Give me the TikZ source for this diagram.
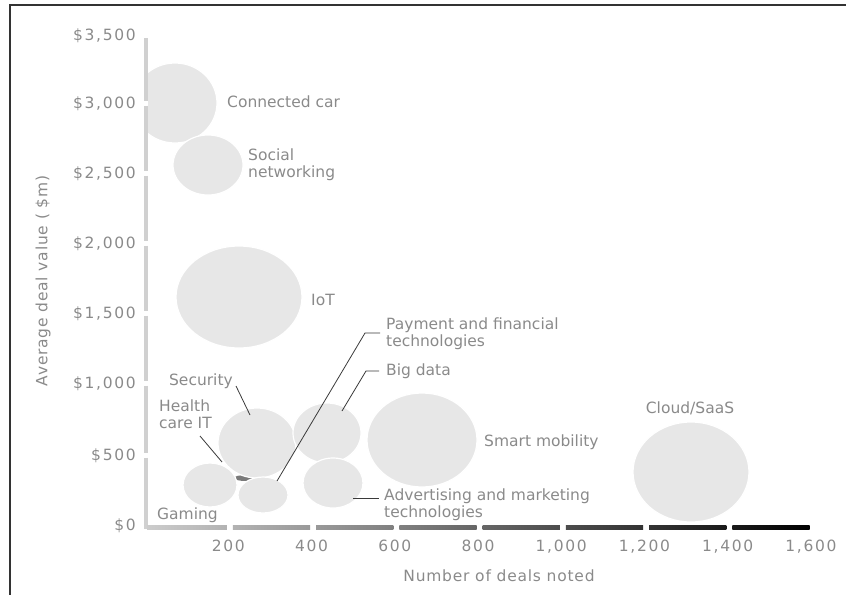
\documentclass[tikz,border=0pt]{standalone}
\usepackage{fontspec}
\setmainfont{DejaVu Sans}
\newfontfamily\tickfont[LetterSpace=11]{DejaVu Sans}
\newfontfamily\titlefont[LetterSpace=5]{DejaVu Sans}
\usetikzlibrary{shapes.geometric}
\definecolor{bubblegray}{HTML}{E7E7E7}
\definecolor{labelgray}{HTML}{8A8A8A}
\definecolor{axisgray}{HTML}{D0D0D0}
\definecolor{framegray}{HTML}{333333}
\definecolor{leadergray}{HTML}{3A3A3A}
\definecolor{healthgray}{HTML}{7A7A7A}
\begin{document}
\begin{tikzpicture}[x=1pt,y=-1pt,
  bubble/.style={ellipse, fill=bubblegray, draw=white, line width=1.2pt, inner sep=0pt},
  lbl/.style={text=labelgray, font=\fontsize{15.5}{17}\selectfont, align=left, inner sep=0pt},
  ticklbl/.style={text=labelgray, font=\tickfont\fontsize{15.5}{17}\selectfont, inner sep=0pt},
  axtitle/.style={text=labelgray, font=\titlefont\fontsize{15.5}{17}\selectfont, inner sep=0pt},
  leader/.style={draw=leadergray, line width=0.8pt},
  yaxisbar/.style={draw=axisgray, line width=3.5pt}]
\useasboundingbox (0,0) rectangle (846,595);

% frame
\draw[framegray, line width=2pt] (846,5) -- (10,5) -- (10,595);

% y axis: bar broken at every tick
\foreach \ya/\yb in {38/100.5, 105.5/170.5, 175.5/240.5, 245.5/310.5, 315.5/380.5, 385.5/452.5, 457.5/529}
  \draw[yaxisbar] (146,\ya) -- (146,\yb);
\foreach \v/\y/\t in {0/525/\$0, 1/455/\$500, 2/383/\$1{,}000, 3/313/\$1{,}500, 4/243/\$2{,}000, 5/173/\$2{,}500, 6/103/\$3{,}000, 7/35/\$3{,}500}
  \node[ticklbl, anchor=base east] (yt\v) at (136,\y+5.6) {\t};

% x axis: segments darkening to the right
\foreach \i in {0,...,7}{
  \pgfmathsetmacro{\xa}{147+83.25*\i+(\i>0)*2.5}
  \pgfmathsetmacro{\xb}{146+83.25*(\i+1)-2.5}
  \pgfmathsetmacro{\ca}{20+10*\i}
  \pgfmathsetmacro{\cb}{30+10*\i}
  \shade[left color=black!\ca, right color=black!\cb] (\xa,525) rectangle (\xb,529.5);
}
\foreach \k/\t in {1/200, 2/400, 3/600, 4/800, 5/1{,}000, 6/1{,}200, 7/1{,}400, 8/1{,}600}
  \node[ticklbl, anchor=base] (xt\k) at (146+83.25*\k-1,551.5) {\t};

% axis titles
\node[axtitle] (xtitle) at (499,576) {Number of deals noted};
\node[axtitle, rotate=90] (ytitle) at (43,281) {Average deal value ( \$m)};

% bubbles
\begin{scope}
  \clip (148,40) rectangle (400,200);
  \node[bubble, minimum width=84pt, minimum height=80pt] (car) at (175,103) {};
\end{scope}
\node[bubble, minimum width=70pt, minimum height=60pt] (social) at (208,165) {};
\node[bubble, minimum width=126pt, minimum height=102pt] (iot) at (239,297) {};
\node[ellipse, fill=healthgray, inner sep=0pt, minimum width=24pt, minimum height=6pt] (health) at (246,478) {};
\node[bubble, minimum width=54pt, minimum height=44pt] (gaming) at (210,485) {};
\node[bubble, minimum width=78pt, minimum height=70pt] (security) at (257,443) {};
\node[bubble, minimum width=50pt, minimum height=36pt] (payment) at (263,495) {};
\node[bubble, minimum width=68pt, minimum height=60pt] (bigdata) at (327,433) {};
\node[bubble, minimum width=60pt, minimum height=50pt] (advert) at (333,483) {};
\node[bubble, minimum width=110pt, minimum height=94pt] (smart) at (422,440) {};
\node[bubble, minimum width=116pt, minimum height=100pt] (cloud) at (691,472) {};

% labels
\node[lbl, anchor=west] (carlbl) at (227,102) {Connected car};
\node[lbl, anchor=west] (sociallbl) at (248,165) {Social\\networking};
\node[lbl, anchor=west] (iotlbl) at (311,300) {IoT};
\node[lbl, anchor=east] (seclbl) at (233,381) {Security};
\node[lbl, anchor=west] (healthlbl) at (159,414) {Health\\care IT};
\node[lbl, anchor=west] (gaminglbl) at (157,515) {Gaming};
\node[lbl, anchor=west] (paylbl) at (386,334) {Payment and financial\\technologies};
\node[lbl, anchor=west] (biglbl) at (386,371) {Big data};
\node[lbl, anchor=west] (smartlbl) at (484,442) {Smart mobility};
\node[lbl, anchor=west] (advlbl) at (384,505) {Advertising and marketing\\technologies};
\node[lbl] (cloudlbl) at (690,408) {Cloud/SaaS};

% leader lines
\coordinate (secA) at (236,386);
\coordinate (secB) at (250,415);
\coordinate (hcA) at (200,436);
\coordinate (hcB) at (222,462);
\coordinate (payA) at (277,481);
\coordinate (payB) at (365,333);
\coordinate (payC) at (380,333);
\coordinate (bigA) at (342,411);
\coordinate (bigB) at (366,371);
\coordinate (bigC) at (379,371);
\coordinate (advA) at (353,498);
\coordinate (advB) at (379,498);
\draw[leader] (secA) -- (secB);
\draw[leader] (hcA) -- (hcB);
\draw[leader] (payA) -- (payB) -- (payC);
\draw[leader] (bigA) -- (bigB) -- (bigC);
\draw[leader] (advA) -- (advB);
\end{tikzpicture}
\end{document}
